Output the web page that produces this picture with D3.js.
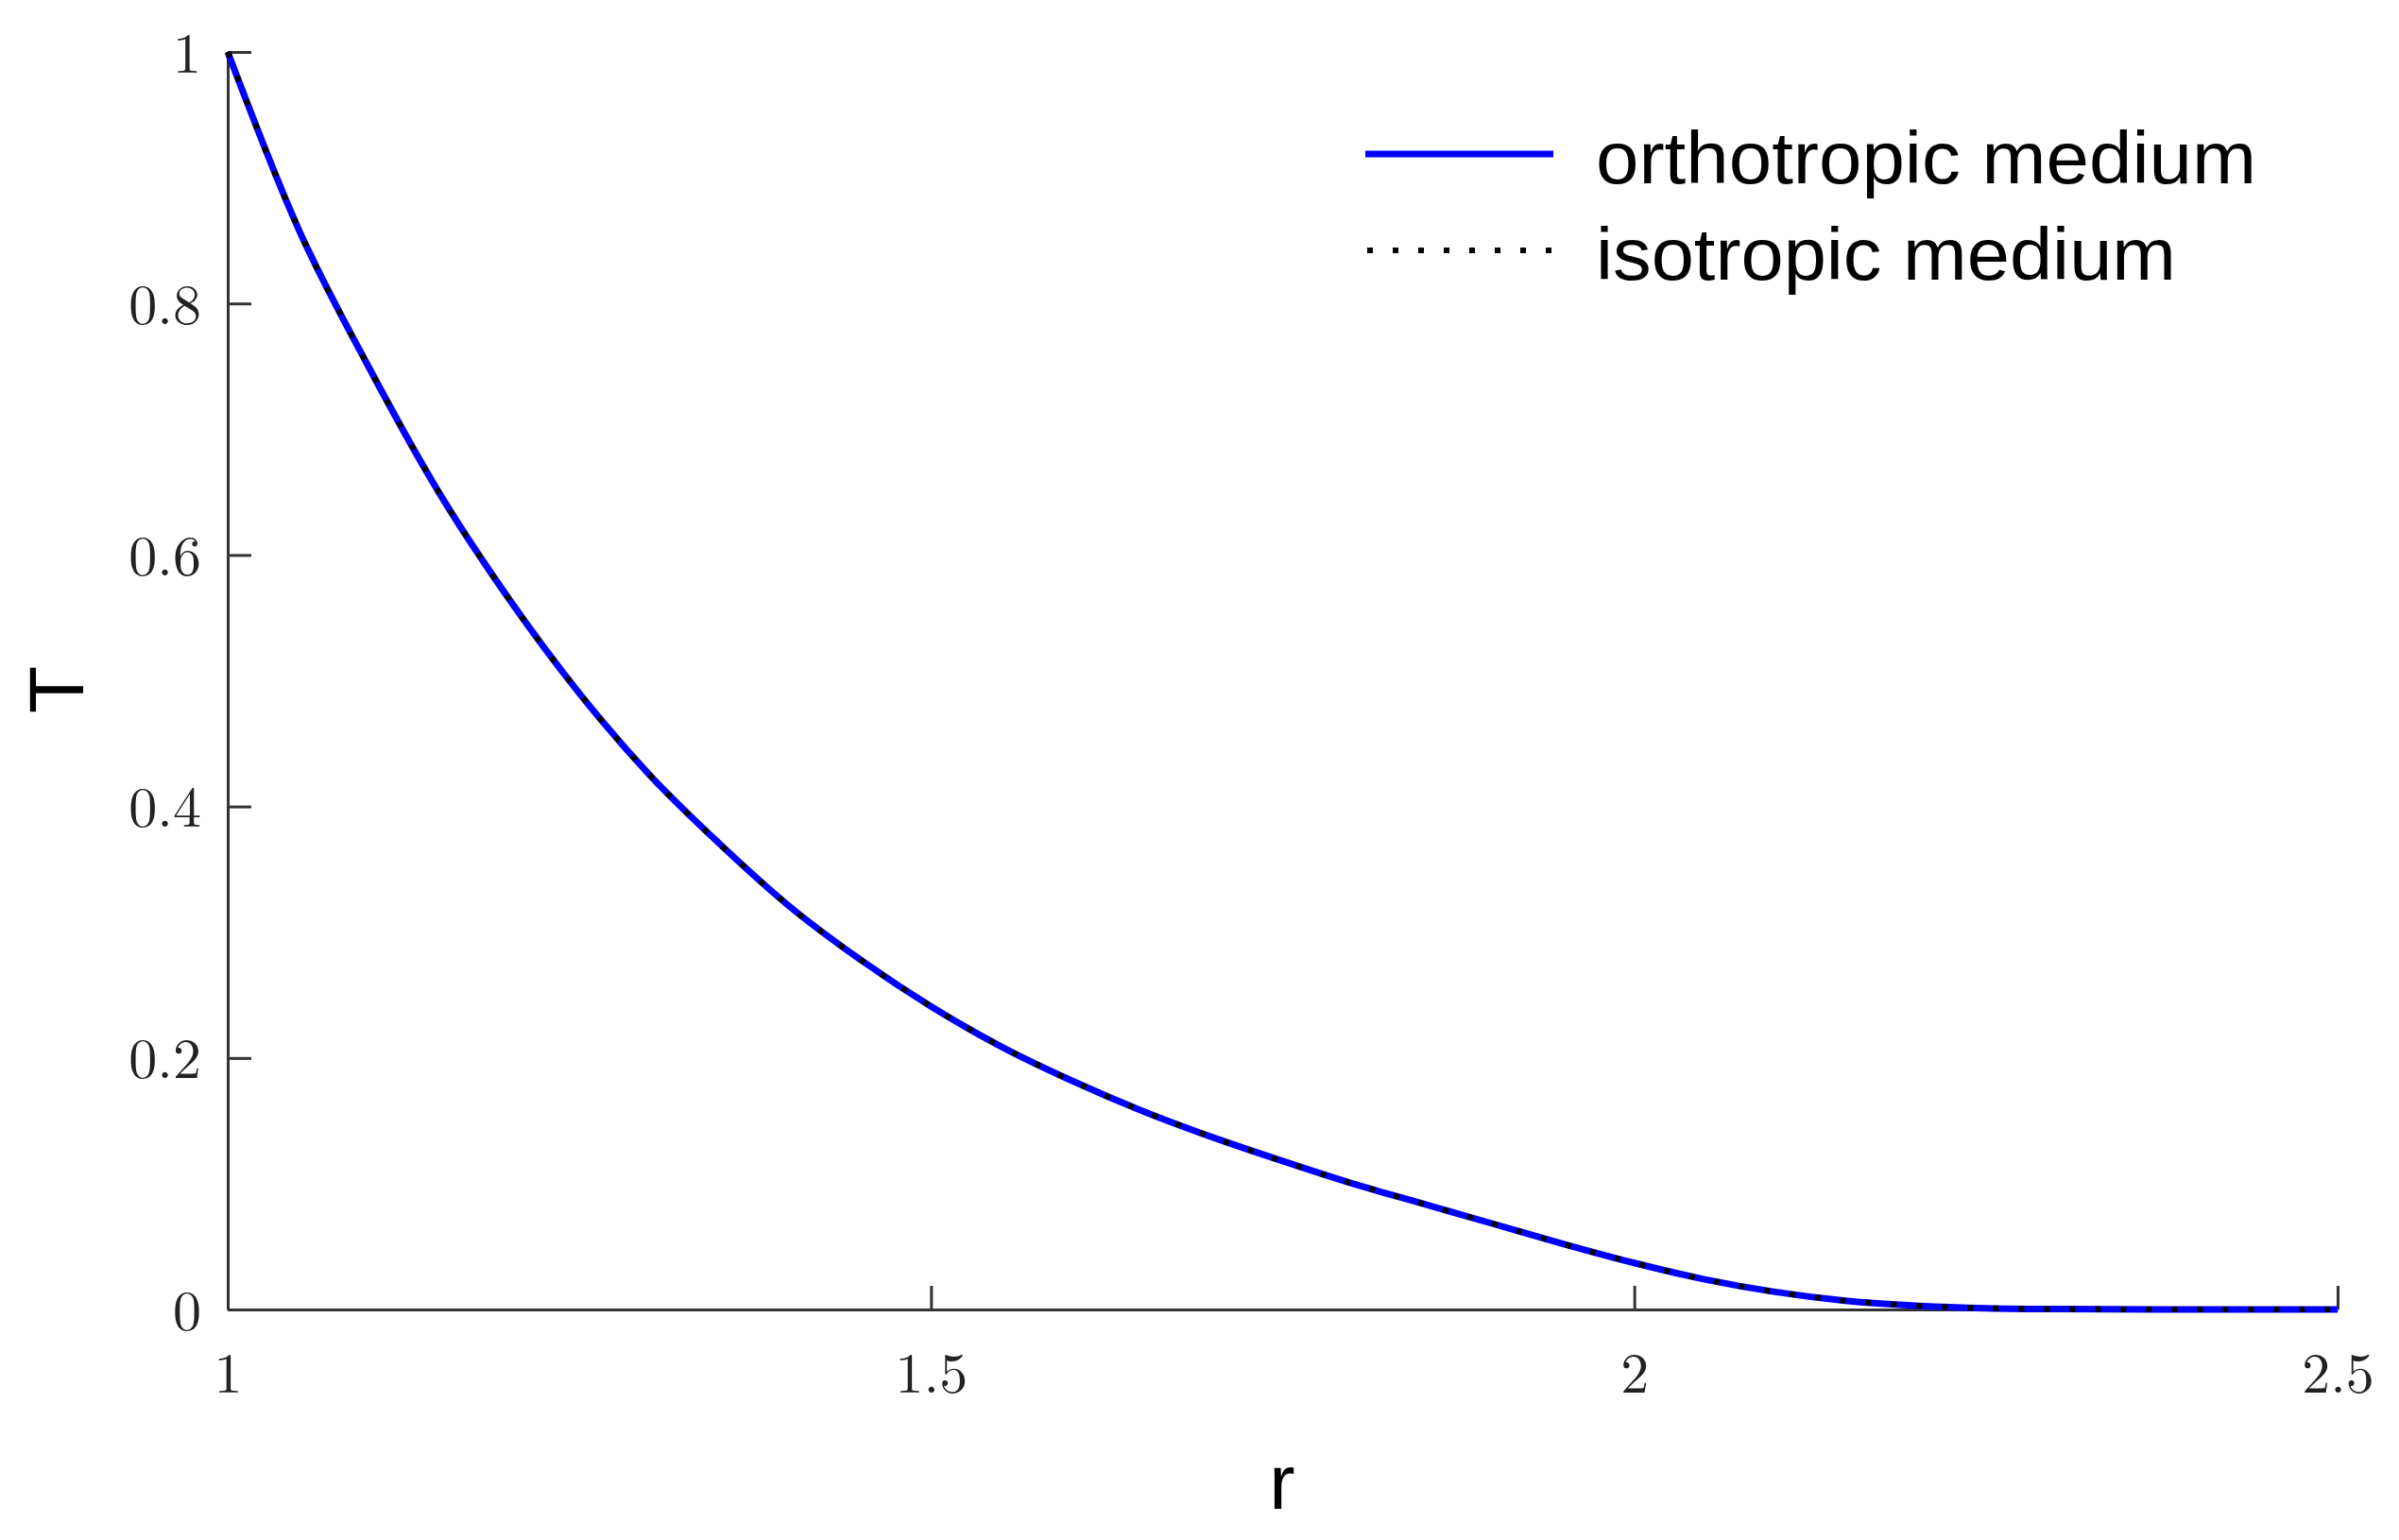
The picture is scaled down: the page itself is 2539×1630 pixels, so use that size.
<!DOCTYPE html>
<html><head><meta charset="utf-8">
<script src="https://cdn.jsdelivr.net/npm/d3@7"></script>
<style>body{margin:0;background:#fff}</style></head>
<body><svg id="c" width="2539" height="1630"></svg>
<script>
const rValues = [1,1.05,1.1,1.15,1.2,1.25,1.3,1.35,1.4,1.45,1.5,1.55,1.6,1.65,1.7,1.75,1.8,1.85,1.9,1.95,2.0,2.05,2.1,2.15,2.2,2.25,2.3,2.4,2.5];
const orthoT  = [1,0.86,0.75,0.65,0.565,0.49,0.425,0.37,0.32,0.278,0.241,0.209,0.182,0.158,0.137,0.118,0.1,0.084,0.068,0.052,0.037,0.024,0.014,0.007,0.003,0.001,0.0003,0,0];
const isoT    = [1,0.86,0.75,0.65,0.565,0.49,0.425,0.37,0.32,0.278,0.241,0.209,0.182,0.158,0.137,0.118,0.1,0.084,0.068,0.052,0.037,0.024,0.014,0.007,0.003,0.001,0.0003,0,0];
const xTicks = [1,1.5,2,2.5];
const xTickLabels = ["1","1.5","2","2.5"];
const yTicks = [0,0.2,0.4,0.6,0.8,1];
const yTickLabels = ["0","0.2","0.4","0.6","0.8","1"];
const seriesNames = ["orthotropic medium","isotropic medium"];

const svg = d3.select("#c");
const x = d3.scaleLinear().domain([1,2.5]).range([241,2474]);
const y = d3.scaleLinear().domain([0,1]).range([1386,55]);
const serif = "'Latin Modern Roman','DejaVu Serif','Liberation Serif',serif";
const sans = "'Liberation Sans','Helvetica',Arial,sans-serif";

const xa = svg.append("g").attr("transform","translate(0,1386)")
  .call(d3.axisBottom(x).tickValues(xTicks).tickFormat((d,i)=>xTickLabels[i]).tickSizeInner(-25).tickSizeOuter(0).tickPadding(45));
const ya = svg.append("g").attr("transform","translate(241,0)")
  .call(d3.axisLeft(y).tickValues(yTicks).tickFormat((d,i)=>yTickLabels[i]).tickSizeInner(-25).tickSizeOuter(0).tickPadding(28));
[xa,ya].forEach(a=>{
  a.select(".domain").attr("stroke","#333").attr("stroke-width",3);
  a.selectAll(".tick line").attr("stroke","#333").attr("stroke-width",3);
  a.selectAll("text").attr("font-family",serif).attr("font-size",60).attr("fill","#222");
});
ya.selectAll("text").attr("dy","0.35em");
xa.selectAll("text").attr("dy","0.71em");

const line = d3.line().x(d=>x(d[0])).y(d=>y(d[1])).curve(d3.curveMonotoneX);
svg.append("path").datum(rValues.map((r,i)=>[r,orthoT[i]]))
  .attr("d",line).attr("fill","none").attr("stroke","#0000ff").attr("stroke-width",7);
svg.append("path").datum(rValues.map((r,i)=>[r,isoT[i]]))
  .attr("d",line).attr("fill","none").attr("stroke","#000").attr("stroke-width",6)
  .attr("stroke-dasharray","6,21");

svg.append("text").attr("x",1357).attr("y",1597).attr("text-anchor","middle")
  .attr("font-family",sans).attr("font-size",82).text("r");
svg.append("text").attr("transform","translate(88,730) rotate(-90)").attr("text-anchor","middle")
  .attr("font-family",sans).attr("font-size",82).text("T");

svg.append("line").attr("x1",1445).attr("x2",1644).attr("y1",163).attr("y2",163)
  .attr("stroke","#0000ff").attr("stroke-width",7);
svg.append("line").attr("x1",1447).attr("x2",1644).attr("y1",265).attr("y2",265)
  .attr("stroke","#000").attr("stroke-width",6).attr("stroke-dasharray","6,21");
svg.append("text").attr("x",1689).attr("y",194).attr("font-family",sans).attr("font-size",78)
  .attr("textLength",699).attr("lengthAdjust","spacingAndGlyphs").text(seriesNames[0]);
svg.append("text").attr("x",1689).attr("y",296).attr("font-family",sans).attr("font-size",78)
  .attr("textLength",614).attr("lengthAdjust","spacingAndGlyphs").text(seriesNames[1]);
</script></body></html>
